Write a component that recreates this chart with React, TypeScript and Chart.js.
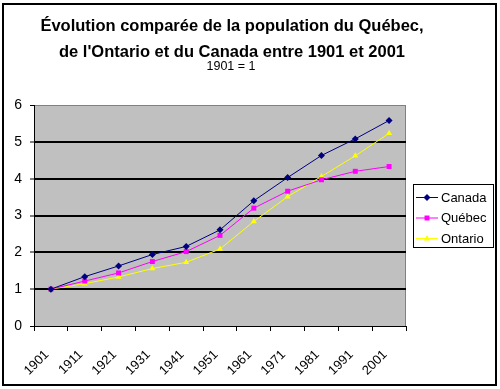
import React, { useEffect, useRef } from "react";
import { Chart, registerables } from "chart.js";

Chart.register(...registerables);

const titleLines = [
  "Évolution comparée de la population du Québec,",
  "de l'Ontario et du Canada entre 1901 et 2001",
];
const subtitleText = "1901 = 1";

const years = ["1901", "1911", "1921", "1931", "1941", "1951", "1961", "1971", "1981", "1991", "2001"];
const yTicks = [0, 1, 2, 3, 4, 5, 6];

const canada = [1.0, 1.34, 1.63, 1.94, 2.16, 2.61, 3.4, 4.03, 4.63, 5.08, 5.58];
const quebec = [1.0, 1.22, 1.44, 1.75, 2.02, 2.46, 3.2, 3.66, 3.97, 4.2, 4.33];
const ontario = [1.0, 1.15, 1.33, 1.56, 1.73, 2.09, 2.84, 3.51, 4.06, 4.62, 5.23];

const seriesNames = ["Canada", "Québec", "Ontario"];
const seriesColors = ["#000080", "#FF00FF", "#FFFF00"];
const seriesStyles = ["rectRot", "rect", "triangle"];

const FONT = "'Liberation Sans', Arial, sans-serif";

function drawMarker(ctx: CanvasRenderingContext2D, style: string, x: number, y: number, r: number) {
  ctx.beginPath();
  if (style === "rectRot") {
    ctx.moveTo(x, y - r);
    ctx.lineTo(x + r, y);
    ctx.lineTo(x, y + r);
    ctx.lineTo(x - r, y);
    ctx.closePath();
  } else if (style === "rect") {
    const s = r / Math.SQRT2;
    ctx.rect(x - s, y - s, 2 * s, 2 * s);
  } else {
    ctx.moveTo(x, y - r);
    ctx.lineTo(x + r * 0.9, y + r * 0.6);
    ctx.lineTo(x - r * 0.9, y + r * 0.6);
    ctx.closePath();
  }
  ctx.fill();
}

const framePlugin = {
  id: "frameAndDecor",
  beforeDraw(chart: any) {
    const { ctx, chartArea } = chart;
    ctx.save();
    ctx.fillStyle = "#ffffff";
    ctx.fillRect(0, 0, chart.width, chart.height);
    ctx.strokeStyle = "#000000";
    ctx.lineWidth = 2;
    ctx.strokeRect(3, 4, 493, 381);
    ctx.fillStyle = "#C0C0C0";
    ctx.fillRect(chartArea.left, chartArea.top, chartArea.right - chartArea.left, chartArea.bottom - chartArea.top);
    ctx.strokeStyle = "#808080";
    ctx.lineWidth = 1;
    ctx.beginPath();
    ctx.moveTo(chartArea.left, chartArea.top + 0.5);
    ctx.lineTo(chartArea.right - 0.5, chartArea.top + 0.5);
    ctx.lineTo(chartArea.right - 0.5, chartArea.bottom);
    ctx.stroke();

    // title
    ctx.fillStyle = "#000000";
    ctx.textAlign = "center";
    ctx.textBaseline = "alphabetic";
    ctx.font = `bold 16.5px ${FONT}`;
    ctx.fillText(titleLines[0], 232, 31);
    ctx.fillText(titleLines[1], 232, 57);
    ctx.font = `12.5px ${FONT}`;
    ctx.fillText(subtitleText, 231, 70);
    ctx.restore();
  },
  afterDraw(chart: any) {
    const { ctx } = chart;
    ctx.save();
    const bx = 413.5, by = 184.5, bw = 80, bh = 63;
    ctx.fillStyle = "#ffffff";
    ctx.fillRect(bx, by, bw, bh);
    ctx.strokeStyle = "#000000";
    ctx.lineWidth = 1;
    ctx.strokeRect(bx, by, bw, bh);
    const ys = [197, 217.5, 238];
    ctx.font = `13px ${FONT}`;
    ctx.textAlign = "left";
    ctx.textBaseline = "middle";
    chart.data.datasets.forEach((ds: any, i: number) => {
      const y = ys[i];
      ctx.strokeStyle = ds.borderColor;
      ctx.lineWidth = 1;
      ctx.beginPath();
      ctx.moveTo(416, y + 0.5);
      ctx.lineTo(438, y + 0.5);
      ctx.stroke();
      ctx.fillStyle = ds.borderColor;
      drawMarker(ctx, ds.pointStyle, 427, y + 0.5, 3.5);
      ctx.fillStyle = "#000000";
      ctx.fillText(ds.label, 441, y + 1);
    });
    ctx.restore();
  },
};

export default function App() {
  const ref = useRef<HTMLCanvasElement | null>(null);
  useEffect(() => {
    if (!ref.current) return;
    const values = [canada, quebec, ontario];
    const chart = new Chart(ref.current, {
      type: "line",
      data: {
        labels: years,
        datasets: values.map((v, i) => ({
          label: seriesNames[i],
          data: v,
          borderColor: seriesColors[i],
          backgroundColor: seriesColors[i],
          pointBackgroundColor: seriesColors[i],
          pointBorderColor: seriesColors[i],
          borderWidth: 1,
          pointStyle: seriesStyles[i] as any,
          pointRadius: 3.5,
          pointBorderWidth: 0,
          tension: 0,
          fill: false,
        })),
      },
      options: {
        animation: false,
        responsive: false,
        devicePixelRatio: 1,
        layout: { padding: { left: 0, right: 94, top: 105, bottom: 0 } },
        plugins: {
          legend: { display: false },
          title: { display: false },
          tooltip: { enabled: false },
        },
        scales: {
          x: {
            type: "category",
            offset: true,
            grid: {
              offset: true,
              drawOnChartArea: false,
              drawTicks: true,
              tickLength: 5,
              color: "#000000",
            },
            border: { color: "#000000", width: 1 },
            ticks: {
              color: "#000000",
              font: { family: FONT, size: 13 },
              minRotation: 45,
              maxRotation: 45,
              autoSkip: false,
              padding: 16,
              labelOffset: -4,
            },
            afterFit(scale: any) {
              scale.height = 63;
            },
          },
          y: {
            min: 0,
            max: 6,
            afterBuildTicks(scale: any) {
              scale.ticks = yTicks.map((v) => ({ value: v }));
            },
            grid: {
              color: (c: any) => (c.tick && c.tick.value === 6 ? "#808080" : "#000000"),
              lineWidth: (c: any) => (c.tick && c.tick.value > 0 && c.tick.value < 6 ? 2 : 1),
              tickColor: "#000000",
              tickWidth: 1,
              tickLength: 4,
            },
            border: { color: "#000000", width: 1 },
            ticks: {
              color: "#000000",
              font: { family: FONT, size: 14 },
              padding: 8,
            },
            afterFit(scale: any) {
              scale.width = 34;
            },
          },
        },
      },
      plugins: [framePlugin],
    });
    return () => chart.destroy();
  }, []);
  return (
    <div style={{ position: "absolute", left: 0, top: 0, width: 500, height: 389 }}>
      <canvas ref={ref} width={500} height={389} style={{ width: 500, height: 389 }} />
    </div>
  );
}
